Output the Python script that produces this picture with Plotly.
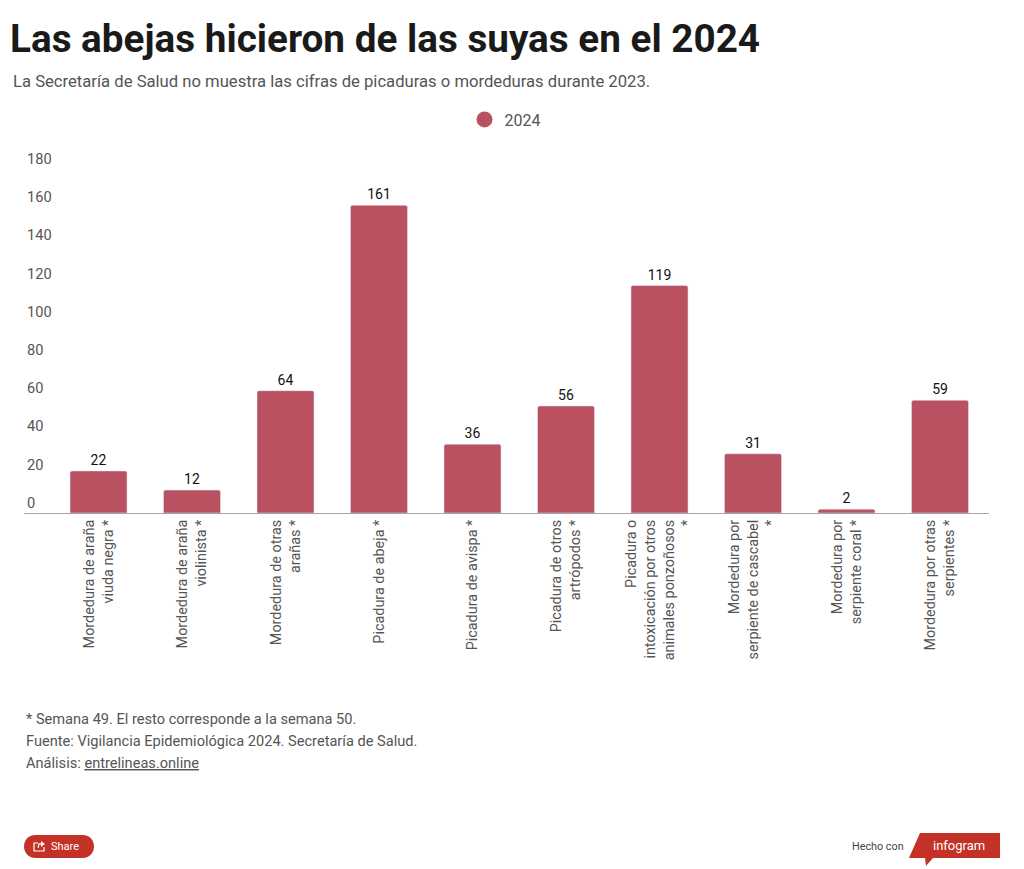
import plotly.graph_objects as go

W = 1024
H = 869

categories = [
    "Mordedura de araña<br>viuda negra *",
    "Mordedura de araña<br>violinista *",
    "Mordedura de otras<br>arañas *",
    "Picadura de abeja *",
    "Picadura de avispa *",
    "Picadura de otros<br>artrópodos *",
    "Picadura o<br>intoxicación por otros<br>animales ponzoñosos<br>*",
    "Mordedura por<br>serpiente de cascabel<br>*",
    "Mordedura por<br>serpiente coral *",
    "Mordedura por otras<br>serpientes *",
]
values_2024 = [22, 12, 64, 161, 36, 56, 119, 31, 2, 59]
y_ticks = [0, 20, 40, 60, 80, 100, 120, 140, 160, 180]
footnotes = [
    "* Semana 49. El resto corresponde a la semana 50.",
    "Fuente: Vigilancia Epidemiológica 2024. Secretaría de Salud.",
    "Análisis: <u>entrelineas.online</u>",
]

BAR = "#b95161"
GREY = "#555555"
RED = "#c43127"


def px(x):
    return x / W


def py(y):
    return 1 - y / H


def path(points, close=True):
    d = "M" + " L".join(f"{px(a):.4f},{py(b):.4f}" for a, b in points)
    return d + " Z" if close else d


def pill(x0, x1, y0, y1):
    # rounded button, ends are half circles made with two curves
    r = (y1 - y0) / 2
    k = r / 3
    return (f"M{px(x0 + r):.4f},{py(y0):.4f} L{px(x1 - r):.4f},{py(y0):.4f} "
            f"C{px(x1 + k):.4f},{py(y0):.4f} {px(x1 + k):.4f},{py(y1):.4f} {px(x1 - r):.4f},{py(y1):.4f} "
            f"L{px(x0 + r):.4f},{py(y1):.4f} "
            f"C{px(x0 - k):.4f},{py(y1):.4f} {px(x0 - k):.4f},{py(y0):.4f} {px(x0 + r):.4f},{py(y0):.4f} Z")


def text(x, y, s, size, color=GREY, anchor="left", family="Roboto"):
    return dict(x=px(x), y=py(y), xref="paper", yref="paper", text=s, showarrow=False,
                xanchor=anchor, yanchor="middle", font=dict(family=family, size=size, color=color))


fig = go.Figure()
fig.add_trace(go.Bar(
    x=categories, y=values_2024, width=0.61, marker=dict(color=BAR, cornerradius=2), showlegend=False,
    text=values_2024, textposition="outside", cliponaxis=False,
    textfont=dict(family="Roboto", size=14, color="#111111"),
))
# legend shows a circle in the original, not a square
fig.add_trace(go.Scatter(x=[None], y=[None], mode="markers", name="2024",
                         marker=dict(color=BAR, size=17)))

annotations = [
    text(8, 39, "<b>Las abejas hicieron de las suyas en el 2024</b>", 38.7, "#1a1a1a"),
    text(11, 82, "La Secretaría de Salud no muestra las cifras de picaduras o mordeduras durante 2023.", 16.65),
    text(49, 846, "Share", 11, "#ffffff"),
    text(850, 846, "Hecho con", 10.8, "#444444"),
    text(931, 845, "infogram", 13, "#ffffff"),
]
for i, line in enumerate(footnotes):
    annotations.append(text(24, 719 + i * 22, line, 14.6))

shapes = [
    # share button
    dict(type="path", xref="paper", yref="paper", line_width=0, fillcolor=RED, path=pill(24, 94, 835, 858)),
    dict(type="path", xref="paper", yref="paper", line=dict(color="#ffffff", width=1.2),
         fillcolor="rgba(0,0,0,0)", path=path([(38, 843), (34, 843), (34, 851), (44, 851), (44, 847)], close=False)),
    dict(type="path", xref="paper", yref="paper", line=dict(color="#ffffff", width=1.2),
         fillcolor="rgba(0,0,0,0)", path=path([(38, 848), (39, 844), (44, 844)], close=False)),
    dict(type="path", xref="paper", yref="paper", line_width=0, fillcolor="#ffffff",
         path=path([(41, 841), (45, 844), (41, 847)])),
    # infogram flag
    dict(type="path", xref="paper", yref="paper", line_width=0, fillcolor=RED,
         path=path([(920, 833), (1000, 833), (1000, 858), (933, 858), (926, 866),
                    (925, 858), (909, 858)])),
]

fig.update_layout(
    width=W, height=H, autosize=False,
    margin=dict(l=0, r=0, t=0, b=0),
    paper_bgcolor="#ffffff", plot_bgcolor="#ffffff",
    font=dict(family="Roboto", color=GREY),
    legend=dict(orientation="h", x=px(505), y=py(119.5), xanchor="center", yanchor="middle",
                font=dict(family="Roboto", size=16, color=GREY), itemsizing="trace"),
    xaxis=dict(domain=[px(24), px(989)], range=[-0.797, 9.524], type="category",
               tickangle=-90, ticks="", tickfont=dict(family="Roboto", size=14.4, color=GREY),
               showline=True, linecolor="#a6a6a6", linewidth=1, showgrid=False,
               automargin=False),
    yaxis=dict(domain=[py(513), py(169)], range=[0, 180], tickvals=y_ticks,
               ticklabelposition="inside top", ticklabeloverflow="allow",
               tickfont=dict(family="Roboto", size=14.6, color=GREY), showgrid=False,
               zeroline=False, showline=False, ticks="", automargin=False),
    annotations=annotations,
    shapes=shapes,
)

fig.write_html("out.html", config=dict(displayModeBar=False), post_script="document.body.style.margin='0';")
